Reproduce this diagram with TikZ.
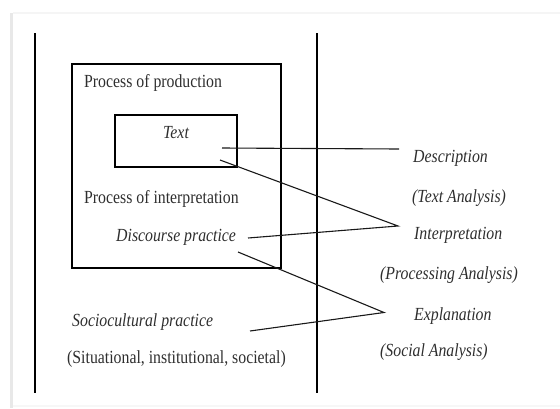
\documentclass[tikz,border=0pt]{standalone}
\usepackage{fontspec}
\setmainfont{Liberation Serif}
\newcommand{\vstr}[1]{\scalebox{1}[1.17]{#1}}
\begin{document}
\begin{tikzpicture}[x=1pt,y=-1pt,
  lbl/.style={inner sep=0pt,font=\fontsize{15.8}{18}\selectfont,text=black!82,anchor=base west},
  ilbl/.style={lbl,font=\fontsize{15.8}{18}\itshape\selectfont},
  frame/.style={line width=2.6pt,black},
  conn/.style={line width=1.1pt,black!90}]
\useasboundingbox (0,0) rectangle (560,408);
% page shadow
\fill[gray!18] (10,13) rectangle (13,408);
\fill[gray!8] (13,12) rectangle (560,14);
\fill[gray!6] (13,405) rectangle (560,406.5);
% vertical rules
\coordinate (vl1) at (35,33); \coordinate (vl2) at (35,393);
\coordinate (vr1) at (317,33); \coordinate (vr2) at (317,393);
\draw[frame] (vl1) -- (vl2);
\draw[frame] (vr1) -- (vr2);
% boxes
\node[frame,draw,minimum width=209pt,minimum height=204pt,inner sep=0pt] (outer) at (176.5,166) {};
\node[frame,draw,minimum width=122pt,minimum height=52pt,inner sep=0pt] (inner) at (176,141) {};
% labels
\node[lbl] (prod) at (84,87) {\vstr{Process of production}};
\node[ilbl,anchor=base] (text) at (176,138) {\vstr{Text}};
\node[lbl] (interp) at (84,203) {\vstr{Process of interpretation}};
\node[ilbl] (disc) at (116,241) {\vstr{Discourse practice}};
\node[ilbl] (socio) at (72,326) {\vstr{Sociocultural practice}};
\node[lbl] (sit) at (67,363) {\vstr{(Situational, institutional, societal)}};
\node[ilbl] (descr) at (413,162.5) {\vstr{Description}};
\node[ilbl] (tana) at (412,202) {\vstr{(Text Analysis)}};
\node[ilbl] (interpr) at (414,239.5) {\vstr{Interpretation}};
\node[ilbl] (pana) at (380,279) {\vstr{(Processing Analysis)}};
\node[ilbl] (expl) at (414,320) {\vstr{Explanation}};
\node[ilbl] (sana) at (380,356.5) {\vstr{(Social Analysis)}};
% connector end points
\coordinate (t1) at (222,148);
\coordinate (d1) at (399,149);
\coordinate (t2) at (220,160);
\coordinate (i1) at (398,226);
\coordinate (dp) at (248,238);
\coordinate (dp2) at (238,252);
\coordinate (e1) at (384,312.5);
\coordinate (sp) at (250,331);
\draw[conn] (t1) -- (d1);
\draw[conn] (t2) -- (i1) -- (dp);
\draw[conn] (dp2) -- (e1) -- (sp);
\end{tikzpicture}
\end{document}
